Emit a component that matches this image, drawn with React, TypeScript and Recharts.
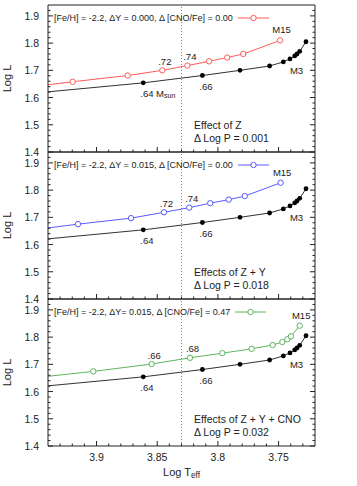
import React from 'react';
import { LineChart, Line, XAxis, YAxis, ReferenceLine, LabelList, Legend } from 'recharts';

const FONT = '"Liberation Sans", Arial, Helvetica, sans-serif';
const INK = '#222';

// tracks (Log Teff, Log L); first point = where the track leaves the frame
const m3Teff = [3.94, 3.8615, 3.8128, 3.7818, 3.7574, 3.7461, 3.7406, 3.7367, 3.7348, 3.7326, 3.7274];
const m3LogL = [1.621, 1.654, 1.681, 1.700, 1.716, 1.731, 1.742, 1.753, 1.760, 1.770, 1.805];
const m3LabelsTop = ['', '.64 M_sun', '.66', '', '', '', '', '', '', '', 'M3'];
const m3Labels = ['', '.64', '.66', '', '', '', '', '', '', '', 'M3'];

const zTeff = [3.94, 3.9197, 3.8743, 3.8458, 3.8252, 3.8073, 3.7923, 3.7791, 3.7488];
const zLogL = [1.647, 1.658, 1.681, 1.700, 1.7175, 1.733, 1.747, 1.760, 1.810];
const zLabels = ['', '', '', '.72', '.74', '', '', '', 'M15'];

const zyTeff = [3.94, 3.9153, 3.8716, 3.8444, 3.8236, 3.8063, 3.7911, 3.7779, 3.7483];
const zyLogL = [1.661, 1.675, 1.697, 1.7185, 1.7356, 1.752, 1.765, 1.778, 1.827];
const zyLabels = ['', '', '', '.72', '.74', '', '', '', 'M15'];

const zycTeff = [3.94, 3.9027, 3.8546, 3.823, 3.7964, 3.7722, 3.7549, 3.7469, 3.7428, 3.7398, 3.7326];
const zycLogL = [1.656, 1.674, 1.701, 1.724, 1.741, 1.757, 1.771, 1.782, 1.792, 1.803, 1.842];
const zycLabels = ['', '', '.66', '.68', '', '', '', '', '', '', 'M15'];

const xMajor = [3.9, 3.85, 3.8, 3.75];
const xMinor = Array.from({ length: 21 }, (_, i) => +(3.73 + i * 0.01).toFixed(2));
const yMajor = [1.4, 1.5, 1.6, 1.7, 1.8, 1.9];
const yMinor = Array.from({ length: 27 }, (_, i) => +(1.4 + i * 0.02).toFixed(2));
const instabilityEdge = 3.83;

const legendNames = [
  '[Fe/H] = -2.2, ΔY = 0.000, Δ [CNO/Fe] = 0.00',
  '[Fe/H] = -2.2, ΔY = 0.015, Δ [CNO/Fe] = 0.00',
  '[Fe/H] = -2.2, ΔY= 0.015, Δ [CNO/Fe] = 0.47',
];
const panelNotes = [
  ['Effect of Z', 'Δ Log P = 0.001'],
  ['Effects of Z + Y', 'Δ Log P = 0.018'],
  ['Effects of Z + Y + CNO', 'Δ Log P = 0.032'],
];

const toPoints = (t: number[], l: number[], lab: string[]) =>
  t.map((v, i) => ({ t: v, L: l[i], lab: lab[i] }));

const W = 357;
const PAD = 5;
const PLOT_H = 147;
const PLOT_LEFT = 48;
const PLOT_RIGHT = 315;

const isMajor = (v: number, list: number[]) => list.some((m) => Math.abs(m - v) < 1e-6);
const fmt = (v: number) => String(+v.toFixed(2));

const XTick = (p: any) => {
  const { x, y, payload, dir, showLabel } = p;
  const major = isMajor(payload.value, xMajor);
  const len = major ? 5 : 2.5;
  return (
    <g>
      <line x1={x} x2={x} y1={y} y2={y + dir * len} stroke={INK} strokeWidth={1} />
      {showLabel && major && (
        <text x={x} y={y + 11} textAnchor="middle" dominantBaseline="central" fontSize={10.5} fill={INK} fontFamily={FONT}>
          {fmt(payload.value)}
        </text>
      )}
    </g>
  );
};

const YTick = (p: any) => {
  const { x, y, payload, dir, showLabel } = p;
  const major = isMajor(payload.value, yMajor);
  const len = major ? 5 : 2.5;
  return (
    <g>
      <line x1={x} x2={x + dir * len} y1={y} y2={y} stroke={INK} strokeWidth={1} />
      {showLabel && major && (
        <text x={x - 9} y={y} textAnchor="end" dominantBaseline="central" fontSize={10.5} fill={INK} fontFamily={FONT}>
          {fmt(payload.value)}
        </text>
      )}
    </g>
  );
};

const withSub = (s: string, size: number) => {
  const [main, sub] = s.split('_');
  return (
    <>
      {main}
      {sub && (
        <tspan dy={3} fontSize={size * 0.75}>
          {sub}
        </tspan>
      )}
    </>
  );
};

const filledDot = (p: any) =>
  p.index === 0 ? <g key={`f${p.index}`} /> : <circle key={`f${p.index}`} cx={p.cx} cy={p.cy} r={2.4} fill="#000" />;

const openDot = (color: string) => (p: any) =>
  p.index === 0 ? (
    <g key={`o${p.index}`} />
  ) : (
    <circle key={`o${p.index}`} cx={p.cx} cy={p.cy} r={2.7} fill="#fff" stroke={color} strokeWidth={1} />
  );

const trackLabel = (upper: boolean) => (p: any) => {
  const v = p.value;
  if (!v) return null;
  const x = p.x ?? p.viewBox?.x;
  const y = p.y ?? p.viewBox?.y;
  const common = { fontSize: 9.5, fill: INK, fontFamily: FONT, dominantBaseline: 'central' as const };
  if (v === 'M15') return <text x={x + 1.5} y={y - 10.5} textAnchor="middle" {...common}>{v}</text>;
  if (v === 'M3') return <text x={x - 9.5} y={y + 29} textAnchor="middle" {...common}>{v}</text>;
  if (upper) return <text x={x + 2.5} y={y - 9} textAnchor="middle" {...common}>{v}</text>;
  return <text x={x - 3} y={y + 10.5} textAnchor="start" {...common}>{withSub(v, 9.5)}</text>;
};

interface PanelProps {
  plotTop: number;
  bottomPad: number;
  m3: { t: number; L: number; lab: string }[];
  track: { t: number; L: number; lab: string }[];
  color: string;
  name: string;
  notes: string[];
  showX: boolean;
}

// axes get 1px of room (Recharts skips 0-sized axes); margins absorb that pixel
const Panel: React.FC<PanelProps> = ({ plotTop, bottomPad, m3, track, color, name, notes, showX }) => {
  const h = PAD + PLOT_H + bottomPad;
  const axisCommon = {
    allowDataOverflow: true,
    interval: 0 as const,
    tickSize: 0,
    tickMargin: 0,
    tickLine: false,
    axisLine: { stroke: INK },
  };
  return (
    <div style={{ position: 'absolute', left: 0, top: plotTop - PAD, width: W, height: h }}>
      <LineChart
        width={W}
        height={h}
        margin={{ top: PAD - 1, right: W - PLOT_RIGHT - 1, bottom: bottomPad - 1, left: PLOT_LEFT - 1 }}
      >
        <XAxis
          {...axisCommon}
          xAxisId="b"
          type="number"
          dataKey="t"
          domain={[3.72, 3.94]}
          reversed
          ticks={xMinor}
          height={1}
          tick={(p: any) => <XTick {...p} dir={-1} showLabel={showX} />}
          label={
            showX
              ? (p: any) => {
                  const vb = p.viewBox;
                  return (
                    <text x={vb.x + vb.width / 2} y={vb.y + 26} textAnchor="middle" dominantBaseline="central" fontSize={11} fill={INK} fontFamily={FONT}>
                      {withSub('Log T_eff', 11)}
                    </text>
                  );
                }
              : undefined
          }
        />
        <XAxis
          {...axisCommon}
          xAxisId="t"
          orientation="top"
          type="number"
          domain={[3.72, 3.94]}
          reversed
          ticks={xMinor}
          height={1}
          tick={(p: any) => <XTick {...p} dir={1} showLabel={false} />}
        />
        <YAxis
          {...axisCommon}
          yAxisId="l"
          type="number"
          domain={[1.4, 1.94]}
          ticks={yMinor}
          width={1}
          tick={(p: any) => <YTick {...p} dir={1} showLabel />}
          label={(p: any) => {
            const vb = p.viewBox;
            const cx = 7;
            const cy = vb.y + vb.height / 2;
            return (
              <text x={cx} y={cy} transform={`rotate(-90 ${cx} ${cy})`} textAnchor="middle" dominantBaseline="central" fontSize={11} fill={INK} fontFamily={FONT}>
                Log L
              </text>
            );
          }}
        />
        <YAxis
          {...axisCommon}
          yAxisId="r"
          orientation="right"
          type="number"
          domain={[1.4, 1.94]}
          ticks={yMinor}
          width={1}
          tick={(p: any) => <YTick {...p} dir={-1} showLabel={false} />}
        />
        <ReferenceLine xAxisId="b" yAxisId="l" x={instabilityEdge} stroke="#888" strokeDasharray="1 2" />
        <Line
          xAxisId="b"
          yAxisId="l"
          data={m3}
          dataKey="L"
          type="linear"
          stroke="#333"
          strokeWidth={1}
          dot={filledDot}
          legendType="none"
          isAnimationActive={false}
        >
          <LabelList dataKey="lab" content={trackLabel(false)} />
        </Line>
        <Line
          xAxisId="b"
          yAxisId="l"
          data={track}
          dataKey="L"
          name={name}
          type="linear"
          stroke={color}
          strokeWidth={1}
          dot={openDot(color)}
          isAnimationActive={false}
        >
          <LabelList dataKey="lab" content={trackLabel(true)} />
        </Line>
        <Legend
          layout="horizontal"
          verticalAlign="middle"
          align="center"
          wrapperStyle={{ top: PAD + 6.5, left: 54, width: 'auto', height: 12 }}
          content={(lp: any) => {
            const item = (lp.payload ?? []).find((it: any) => it.value === name);
            const c = item?.color ?? color;
            return (
              <div style={{ display: 'flex', alignItems: 'center', height: 12, fontFamily: FONT, fontSize: 9, color: INK, whiteSpace: 'nowrap' }}>
                <span>{item?.value ?? name}</span>
                <svg width={31} height={12} style={{ marginLeft: 5 }}>
                  <line x1={0} x2={31} y1={6} y2={6} stroke={c} strokeWidth={1} />
                  <circle cx={15.5} cy={6} r={2.7} fill="#fff" stroke={c} strokeWidth={1} />
                </svg>
              </div>
            );
          }}
        />
      </LineChart>
      <div
        style={{
          position: 'absolute',
          left: 194,
          top: PAD + 113.5,
          fontFamily: FONT,
          fontSize: 10.5,
          lineHeight: '13px',
          color: INK,
          whiteSpace: 'nowrap',
        }}
      >
        {notes.map((n) => (
          <div key={n}>{n}</div>
        ))}
      </div>
    </div>
  );
};

export default function App() {
  const m3Top = toPoints(m3Teff, m3LogL, m3LabelsTop);
  const m3Rest = toPoints(m3Teff, m3LogL, m3Labels);
  return (
    <div style={{ position: 'absolute', left: 0, top: 0, width: W, height: 486, background: '#fff', fontFamily: FONT }}>
      <Panel plotTop={5} bottomPad={8} m3={m3Top} track={toPoints(zTeff, zLogL, zLabels)} color="#ff5a5a" name={legendNames[0]} notes={panelNotes[0]} showX={false} />
      <Panel plotTop={152} bottomPad={8} m3={m3Rest} track={toPoints(zyTeff, zyLogL, zyLabels)} color="#5a5aff" name={legendNames[1]} notes={panelNotes[1]} showX={false} />
      <Panel plotTop={299} bottomPad={40} m3={m3Rest} track={toPoints(zycTeff, zycLogL, zycLabels)} color="#5fb45f" name={legendNames[2]} notes={panelNotes[2]} showX />
    </div>
  );
}
